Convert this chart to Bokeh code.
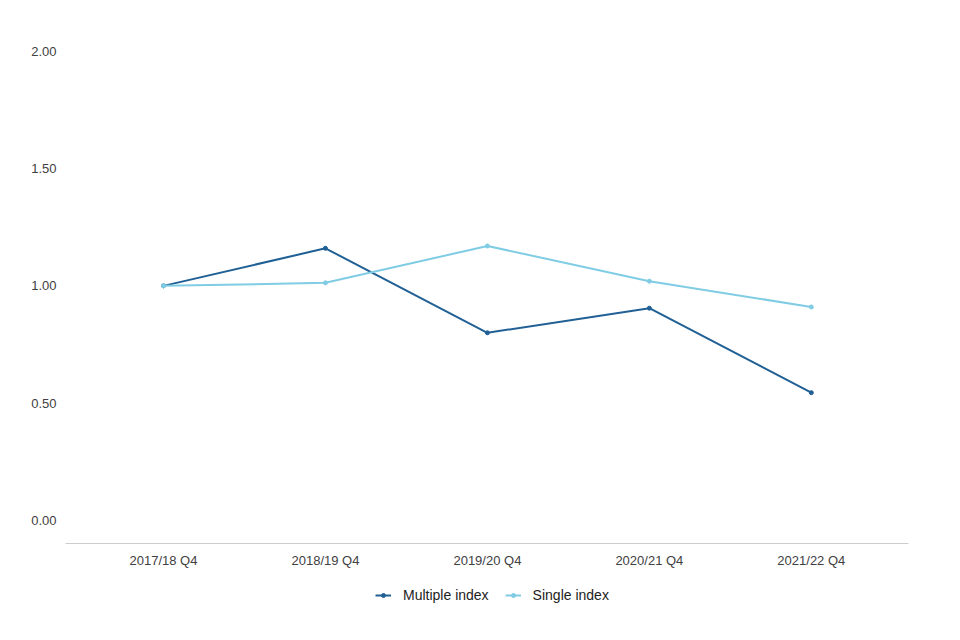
from bokeh.plotting import figure
from bokeh.layouts import column
from bokeh.models import Range1d, Legend, LegendItem, FixedTicker, ColumnDataSource
from bokeh.embed import file_html
from bokeh.resources import INLINE

periods = ["2017/18 Q4", "2018/19 Q4", "2019/20 Q4", "2020/21 Q4", "2021/22 Q4"]
multiple_index = [1.00, 1.16, 0.80, 0.905, 0.545]
single_index = [1.00, 1.013, 1.17, 1.02, 0.91]
y_ticks = [0.0, 0.5, 1.0, 1.5, 2.0]

DARK = "#206095"
LIGHT = "#7fcce4"
FONT = "Liberation Sans"

xs = list(range(len(periods)))

fig = figure(frame_width=843, frame_height=504, output_backend="svg", toolbar_location=None,
             x_range=Range1d(-0.605, 4.6), y_range=Range1d(-0.098, 2.05),
             min_border_left=65, min_border_right=52, min_border_top=39, min_border_bottom=0)
fig.outline_line_color = None
fig.xgrid.grid_line_color = None
fig.ygrid.grid_line_color = None

src_m = ColumnDataSource(dict(x=xs, y=multiple_index))
src_s = ColumnDataSource(dict(x=xs, y=single_index))

fig.line("x", "y", source=src_m, line_color=DARK, line_width=2)
fig.scatter("x", "y", source=src_m, size=4, fill_color=DARK, line_color=DARK)
fig.line("x", "y", source=src_s, line_color=LIGHT, line_width=2)
fig.scatter("x", "y", source=src_s, size=4, fill_color=LIGHT, line_color=LIGHT)

xa = fig.xaxis[0]
xa.ticker = FixedTicker(ticks=xs)
xa.major_label_overrides = {i: lab for i, lab in enumerate(periods)}
xa.axis_line_color = "#cccccc"
xa.major_tick_line_color = None
xa.minor_tick_line_color = None
xa.major_tick_out = 0
xa.major_tick_in = 0
xa.major_label_text_font = FONT
xa.major_label_text_font_size = "13px"
xa.major_label_text_color = "#414042"
xa.major_label_standoff = 9

ya = fig.yaxis[0]
ya.ticker = FixedTicker(ticks=y_ticks)
ya.major_label_overrides = {t: f"{t:.2f}" for t in y_ticks}
ya.axis_line_color = None
ya.major_tick_line_color = None
ya.minor_tick_line_color = None
ya.major_tick_out = 0
ya.major_tick_in = 0
ya.major_label_text_font = FONT
ya.major_label_text_font_size = "13px"
ya.major_label_text_color = "#414042"
ya.major_label_standoff = 9

# legend strip (separate small figure so the legend sits below the axis)
leg = figure(frame_width=843, frame_height=56, output_backend="svg", toolbar_location=None,
             x_range=Range1d(100, 101), y_range=Range1d(100, 101),
             x_axis_location=None, y_axis_location=None,
             min_border_left=65, min_border_right=52, min_border_top=0, min_border_bottom=0)
leg.outline_line_color = None
leg.xgrid.grid_line_color = None
leg.ygrid.grid_line_color = None
l1 = leg.line("x", "y", source=src_m, line_color=DARK, line_width=2)
s1 = leg.scatter("x", "y", source=src_m, size=4, fill_color=DARK, line_color=DARK)
l2 = leg.line("x", "y", source=src_s, line_color=LIGHT, line_width=2)
s2 = leg.scatter("x", "y", source=src_s, size=4, fill_color=LIGHT, line_color=LIGHT)

legend = Legend(items=[LegendItem(label="Multiple index", renderers=[l1, s1]),
                       LegendItem(label="Single index", renderers=[l2, s2])],
                orientation="horizontal", location=(310, 23))
legend.label_text_font = FONT
legend.label_text_font_size = "14px"
legend.label_text_color = "#222222"
legend.glyph_width = 16
legend.glyph_height = 10
legend.label_standoff = 12
legend.spacing = 16
legend.padding = 4
legend.margin = 0
legend.border_line_color = None
legend.background_fill_alpha = 0
leg.add_layout(legend, "center")

p = column(fig, leg, spacing=0)
open("out.html", "w").write(file_html(p, INLINE))
